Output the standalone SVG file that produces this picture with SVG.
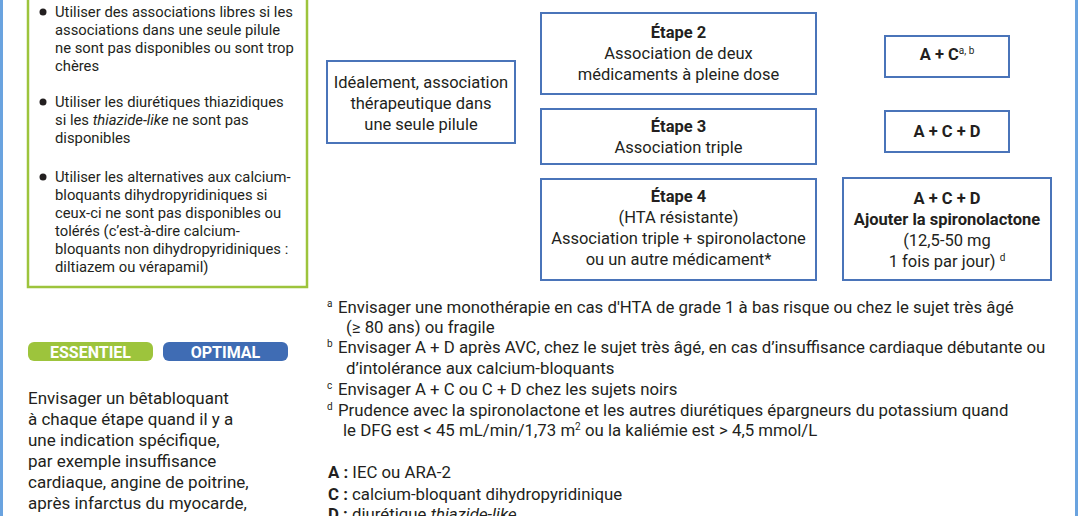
<svg xmlns="http://www.w3.org/2000/svg" width="1078" height="516" viewBox="0 0 1078 516">
<style>
text{font-family:Roboto,"Liberation Sans",sans-serif;fill:#231f20}
.box{fill:#fff;stroke:#4a74b9;stroke-width:2}
.c{text-anchor:middle;font-size:16.5px}
.b{font-weight:bold}
.bul{font-size:14.8px}
.fn{font-size:16.8px}
.sup{font-size:10px}
.par{font-size:17px}
</style>
<rect width="1078" height="516" fill="#fff"/>
<rect x="0" y="0" width="3" height="516" fill="#6aa3df"/>
<rect x="1075" y="0" width="3" height="516" fill="#6aa3df"/>

<g id="conseils">
<rect x="28" y="-10" width="279" height="297" fill="#fff" stroke="#9dc43c" stroke-width="2.5"/>
<circle cx="43" cy="12" r="3.5" fill="#231f20"/>
<text class="bul" x="55" y="17">Utiliser des associations libres si les</text>
<text class="bul" x="55" y="35">associations dans une seule pilule</text>
<text class="bul" x="55" y="53">ne sont pas disponibles ou sont trop</text>
<text class="bul" x="55" y="71">chères</text>
<circle cx="43" cy="102" r="3.5" fill="#231f20"/>
<text class="bul" x="55" y="107">Utiliser les diurétiques thiazidiques</text>
<text class="bul" x="55" y="125">si les <tspan font-style="italic">thiazide-like</tspan> ne sont pas</text>
<text class="bul" x="55" y="143">disponibles</text>
<circle cx="43" cy="177" r="3.5" fill="#231f20"/>
<text class="bul" x="55" y="182">Utiliser les alternatives aux calcium-</text>
<text class="bul" x="55" y="200">bloquants dihydropyridiniques si</text>
<text class="bul" x="55" y="218">ceux-ci ne sont pas disponibles ou</text>
<text class="bul" x="55" y="236">tolérés (c’est-à-dire calcium-</text>
<text class="bul" x="55" y="254">bloquants non dihydropyridiniques :</text>
<text class="bul" x="55" y="272">diltiazem ou vérapamil)</text>
</g>

<g id="ideal">
<rect class="box" x="327" y="61" width="188" height="82"/>
<text class="c" x="421" y="88">Idéalement, association</text>
<text class="c" x="421" y="109">thérapeutique dans</text>
<text class="c" x="421" y="130">une seule pilule</text>
</g>

<g id="etape2">
<rect class="box" x="541" y="13" width="275" height="81"/>
<text class="c b" x="678.5" y="38">Étape 2</text>
<text class="c" x="678.5" y="59">Association de deux</text>
<text class="c" x="678.5" y="80">médicaments à pleine dose</text>
</g>

<g id="etape3">
<rect class="box" x="541" y="109" width="275" height="55"/>
<text class="c b" x="678.5" y="132">Étape 3</text>
<text class="c" x="678.5" y="153">Association triple</text>
</g>

<g id="etape4">
<rect class="box" x="541" y="179" width="275" height="101"/>
<text class="c b" x="678.5" y="202">Étape 4</text>
<text class="c" x="678.5" y="223">(HTA résistante)</text>
<text class="c" x="678.5" y="244">Association triple + spironolactone</text>
<text class="c" x="678.5" y="265">ou un autre médicament*</text>
</g>

<g id="ac">
<rect class="box" x="885" y="36" width="124" height="41"/>
<text class="c b" x="947" y="60">A + C<tspan class="sup" font-weight="normal" dy="-6">a, b</tspan></text>
</g>

<g id="acd">
<rect class="box" x="885" y="111" width="124" height="41"/>
<text class="c b" x="947" y="137">A + C + D</text>
</g>

<g id="spiro">
<rect class="box" x="843" y="178" width="208" height="102"/>
<text class="c b" x="947" y="204">A + C + D</text>
<text class="c b" x="947" y="225">Ajouter la spironolactone</text>
<text class="c" x="947" y="246">(12,5-50 mg</text>
<text class="c" x="947" y="267">1 fois par jour) <tspan class="sup" dy="-6">d</tspan></text>
</g>

<g id="connectors"></g>

<g id="badges">
<rect x="28" y="342" width="125" height="19" rx="6" fill="#9dc43c"/>
<text x="90.5" y="357.5" text-anchor="middle" font-size="16" font-weight="bold" style="fill:#fff">ESSENTIEL</text>
<rect x="163" y="342" width="125" height="19" rx="6" fill="#3f6cb4"/>
<text x="225.5" y="357.5" text-anchor="middle" font-size="16" font-weight="bold" style="fill:#fff">OPTIMAL</text>
</g>

<g id="betabloquant">
<text class="par" x="28" y="404">Envisager un bêtabloquant</text>
<text class="par" x="28" y="425">à chaque étape quand il y a</text>
<text class="par" x="28" y="446">une indication spécifique,</text>
<text class="par" x="28" y="467">par exemple insuffisance</text>
<text class="par" x="28" y="488">cardiaque, angine de poitrine,</text>
<text class="par" x="28" y="509">après infarctus du myocarde,</text>
</g>

<g id="notes">
<text class="fn" x="327" y="313"><tspan class="sup" dy="-6">a</tspan><tspan x="338" dy="6">Envisager une monothérapie en cas d'HTA de grade 1 à bas risque ou chez le sujet très âgé</tspan></text>
<text class="fn" x="346" y="333">(≥ 80 ans) ou fragile</text>
<text class="fn" x="327" y="353"><tspan class="sup" dy="-6">b</tspan><tspan x="338" dy="6">Envisager A + D après AVC, chez le sujet très âgé, en cas d’insuffisance cardiaque débutante ou</tspan></text>
<text class="fn" x="346" y="374">d’intolérance aux calcium-bloquants</text>
<text class="fn" x="327" y="395"><tspan class="sup" dy="-6">c</tspan><tspan x="338" dy="6">Envisager A + C ou C + D chez les sujets noirs</tspan></text>
<text class="fn" x="327" y="416"><tspan class="sup" dy="-6">d</tspan><tspan x="338" dy="6">Prudence avec la spironolactone et les autres diurétiques épargneurs du potassium quand</tspan></text>
<text class="fn" x="343" y="436">le DFG est &lt; 45 mL/min/1,73 m<tspan class="sup" dy="-6">2</tspan><tspan dy="6"> ou la kaliémie est &gt; 4,5 mmol/L</tspan></text>
<text class="fn" x="328" y="478"><tspan class="b">A :</tspan> IEC ou ARA-2</text>
<text class="fn" x="328" y="500"><tspan class="b">C :</tspan> calcium-bloquant dihydropyridinique</text>
<text class="fn" x="328" y="520"><tspan class="b">D :</tspan> diurétique <tspan font-style="italic">thiazide-like</tspan></text>
</g>
</svg>
